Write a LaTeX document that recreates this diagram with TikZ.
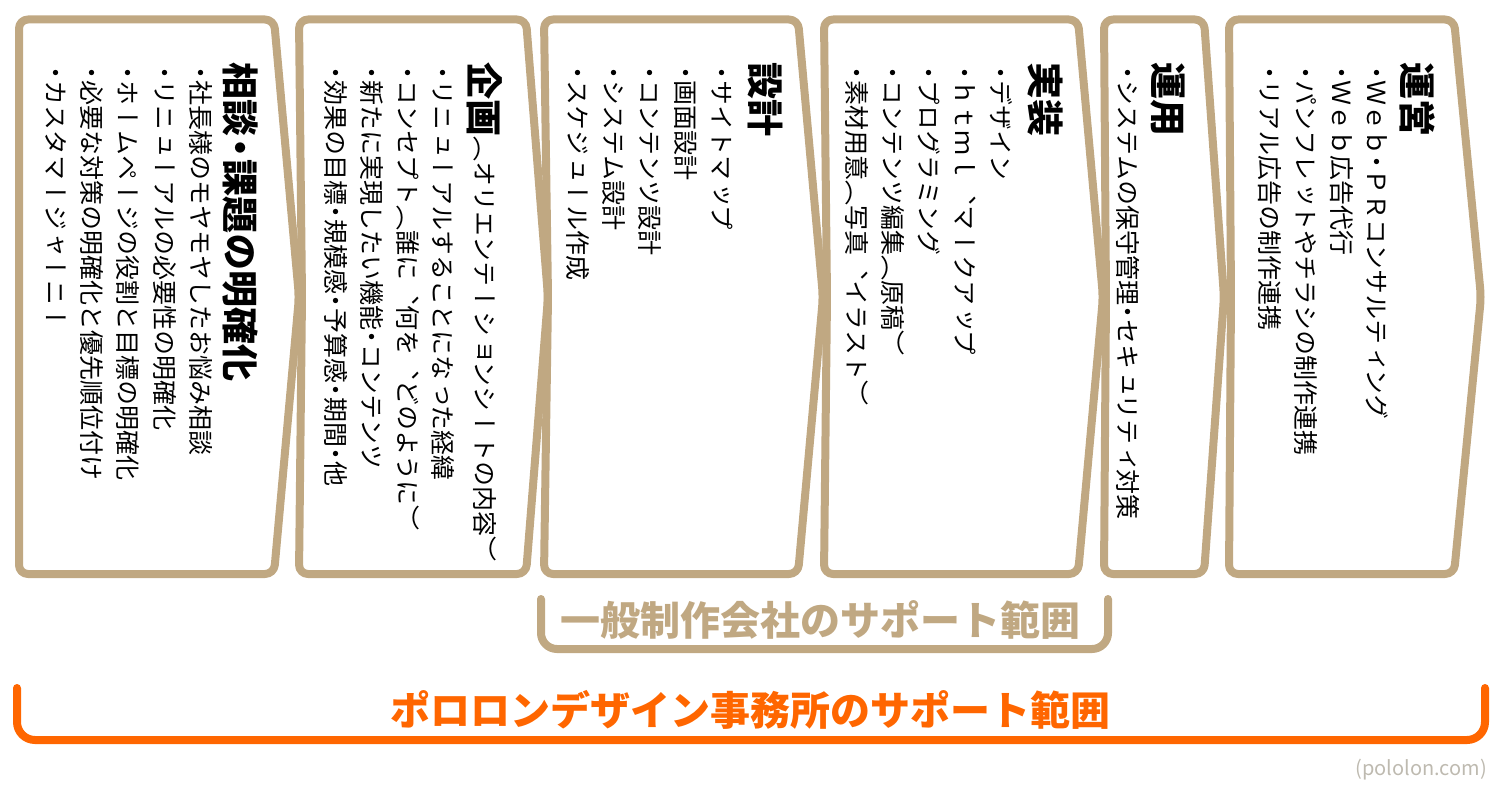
\documentclass[tikz,border=0pt]{standalone}
\usepackage{fontspec}
\newfontfamily\vjp[Vertical=RotatedGlyphs,RawFeature=+vert]{Noto Sans CJK JP}
\newfontfamily\hjp{Noto Sans CJK JP}
\definecolor{tan}{RGB}{192,168,130}
\definecolor{porange}{RGB}{255,102,0}
\definecolor{credit}{RGB}{190,186,176}
\newcommand\nd{\kern-5.5pt・\kern-5.5pt}
\newcommand\td{\kern-7pt・\kern-7pt}
\begin{document}
\begin{tikzpicture}[x=1pt,y=-1pt,
  panel/.style={draw=tan,line width=8pt,rounded corners=9pt,line join=round},
  ttl/.style={rotate=-90,anchor=west,inner sep=0pt,font=\vjp\bfseries\fontsize{37}{37}\selectfont},
  body/.style={rotate=-90,anchor=west,inner sep=0pt,font=\vjp\fontsize{25}{25}\selectfont},
  bracket/.style={line width=8pt,rounded corners=16pt,line cap=round},
  bigtxt/.style={inner sep=0pt,font=\hjp\bfseries\fontsize{40}{40}\selectfont}]
\useasboundingbox (0,0) rectangle (1500,800);
% panels
\draw[panel] (19,19.5) -- (274,19.5) -- (299,297) -- (274,574) -- (19,574) -- cycle;
\draw[panel] (299,19.5) -- (526,19.5) -- (548,297) -- (526,574) -- (299,574) -- (302,297) -- cycle;
\draw[panel] (544,19.5) -- (798,19.5) -- (823,297) -- (798,574) -- (544,574) -- (548,297) -- cycle;
\draw[panel] (824,19.5) -- (1078,19.5) -- (1103,297) -- (1078,574) -- (824,574) -- (827,297) -- cycle;
\draw[panel] (1104,19.5) -- (1204,19.5) -- (1224,297) -- (1204,574) -- (1104,574) -- (1106,297) -- cycle;
\draw[panel] (1229,19.5) -- (1454,19.5) -- (1481,297) -- (1454,574) -- (1229,574) -- (1231,297) -- cycle;
% panel 1
\node[ttl] (t1) at (240,62) {相談\td 課題の明確化};
\node[body] (b11) at (201,66) {\nd 社長様のモヤモヤしたお悩み相談};
\node[body] (b12) at (165,66) {\nd リニューアルの必要性の明確化};
\node[body] (b13) at (128,66) {\nd ホームページの役割と目標の明確化};
\node[body] (b14) at (92,66) {\nd 必要な対策の明確化と優先順位付け};
\node[body] (b15) at (56,66) {\nd カスタマージャーニー};
% panel 2
\node[ttl] (t2) at (485,62) {企画\raisebox{4.4pt}{\mdseries\fontsize{25}{25}\selectfont （オリエンテーションシートの内容）}};
\node[body] (b21) at (443,66) {\nd リニューアルすることになった経緯};
\node[body] (b22) at (408,66) {\nd コンセプト（誰に、何を、どのように）};
\node[body] (b23) at (372,66) {\nd 新たに実現したい機能\nd コンテンツ};
\node[body] (b24) at (336,66) {\nd 効果の目標\nd 規模感\nd 予算感\nd 期間\nd 他};
% panel 3
\node[ttl] (t3) at (765,62) {設計};
\node[body] (b31) at (722,66) {\nd サイトマップ};
\node[body] (b32) at (686,66) {\nd 画面設計};
\node[body] (b33) at (650,66) {\nd コンテンツ設計};
\node[body] (b34) at (614,66) {\nd システム設計};
\node[body] (b35) at (578,66) {\nd スケジュール作成};
% panel 4
\node[ttl] (t4) at (1045,62) {実装};
\node[body] (b41) at (1001,66) {\nd デザイン};
\node[body] (b42) at (965,66) {\nd ｈｔｍｌ、マークアップ};
\node[body] (b43) at (929,66) {\nd プログラミング};
\node[body] (b44) at (893,66) {\nd コンテンツ編集（原稿）};
\node[body] (b45) at (857,66) {\nd 素材用意（写真、イラスト）};
% panel 5
\node[ttl] (t5) at (1168,62) {運用};
\node[body] (b51) at (1128,66) {\nd システムの保守管理\nd セキュリティ対策};
% panel 6
\node[ttl] (t6) at (1418,62) {運営};
\node[body] (b61) at (1377,66) {\nd Ｗｅｂ\nd ＰＲコンサルティング};
\node[body] (b62) at (1342,66) {\nd Ｗｅｂ広告代行};
\node[body] (b63) at (1306,66) {\nd パンフレットやチラシの制作連携};
\node[body] (b64) at (1270,66) {\nd リアル広告の制作連携};
% brackets
\coordinate (g1) at (541,599); \coordinate (g2) at (541,649);
\coordinate (g3) at (1108,649); \coordinate (g4) at (1108,599);
\draw[bracket,tan] (g1) -- (g2) -- (g3) -- (g4);
\node[bigtxt,text=tan] (gt) at (820,620) {一般制作会社のサポート範囲};
\coordinate (o1) at (17,688); \coordinate (o2) at (17,740);
\coordinate (o3) at (1485,740); \coordinate (o4) at (1485,688);
\draw[bracket,porange,rounded corners=18pt] (o1) -- (o2) -- (o3) -- (o4);
\node[bigtxt,text=porange] (ot) at (750,710) {ポロロンデザイン事務所のサポート範囲};
\node[inner sep=0pt,anchor=east,text=credit,font=\hjp\fontsize{20}{20}\selectfont] (cr) at (1487,770) {(pololon.com)};
\end{tikzpicture}
\end{document}
